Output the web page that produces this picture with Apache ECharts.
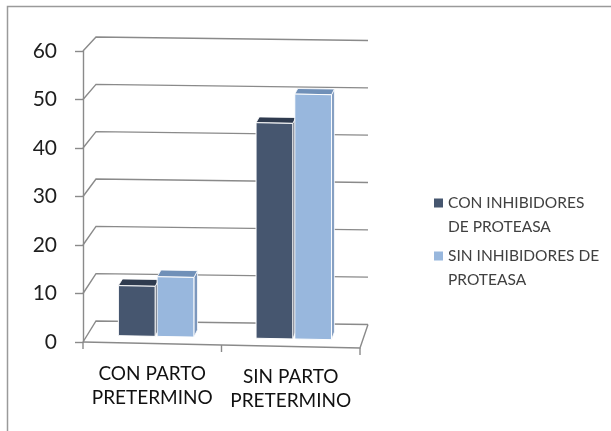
<!DOCTYPE html>
<html>
<head>
<meta charset="utf-8">
<script src="https://cdn.jsdelivr.net/npm/echarts@6/dist/echarts.min.js"></script>
<style>
  html, body { margin: 0; padding: 0; background: #ffffff; }
  #chart { width: 611px; height: 431px; }
</style>
</head>
<body>
<div id="chart"></div>
<script>
// ---- data ----
const categories = ['CON PARTO\nPRETERMINO', 'SIN PARTO\nPRETERMINO'];
const seriesNames = ['CON INHIBIDORES DE PROTEASA', 'SIN INHIBIDORES DE PROTEASA'];
const legendLabels = ['CON INHIBIDORES\nDE PROTEASA', 'SIN INHIBIDORES DE\nPROTEASA'];
const conInhibidores = [10.4, 44.8];
const sinInhibidores = [12.4, 50.9];
const yTicks = [0, 10, 20, 30, 40, 50, 60];

// ---- pseudo-3D box geometry ----
const BOX = { dx: 13, dy: -21, backShrinkX: 5, backShrinkY: 7, frontSlope: 6, backSlope: 3.5 };
const BAR = { widthRatio: 0.267, gap: 2, front: 0.33, back: 0.66 };
const GRID_COLOR = '#8a8a8a';

// maps a front-plane pixel (from the axes) to a point at depth d (0 = front, 1 = back wall)
function project(cs, px, py, d) {
  const t = (px - cs.x) / cs.width;
  const bottom = cs.y + cs.height;
  const f = (bottom - py) / cs.height;
  const fx = px;
  const fy = py + t * BOX.frontSlope;
  const bx = cs.x + BOX.dx + t * (cs.width - BOX.backShrinkX);
  const by = bottom + BOX.dy - f * (cs.height - BOX.backShrinkY) + t * BOX.backSlope;
  return [fx + (bx - fx) * d, fy + (by - fy) * d];
}

// back wall gridlines, floor outline and category ticks
function renderFrame(params, api) {
  const cs = params.coordSys;
  const v = api.value(1);
  const p = api.coord([0, v]);
  const y = p[1];
  const left = cs.x, right = cs.x + cs.width;
  const lineStyle = { stroke: GRID_COLOR, lineWidth: 1.4, fill: null };
  const children = [{
    type: 'polyline',
    shape: { points: [[left, y], project(cs, left, y, 1), project(cs, right, y, 1)] },
    style: lineStyle
  }];
  if (v === yTicks[0]) {
    children.push({
      type: 'polyline',
      shape: { points: [project(cs, right, y, 1), project(cs, right, y, 0), project(cs, left, y, 0)] },
      style: lineStyle
    });
    const n = categories.length;
    for (let i = 0; i <= n; i++) {
      const x = left + cs.width * i / n;
      const a = project(cs, x, y, 0);
      children.push({
        type: 'line',
        shape: { x1: a[0], y1: a[1], x2: a[0], y2: a[1] + 7 },
        style: { stroke: GRID_COLOR, lineWidth: 1.4 }
      });
    }
  }
  return { type: 'group', children: children };
}

function barRenderer(slot, colors) {
  return function (params, api) {
    const cs = params.coordSys;
    const ci = api.value(0);
    const v = api.value(1);
    const base = api.coord([ci, 0]);
    const top = api.coord([ci, v]);
    const band = api.size([1, 0])[0];
    const w = band * BAR.widthRatio;
    const x0 = slot === 0 ? base[0] - w - BAR.gap / 2 : base[0] + BAR.gap / 2;
    const x1 = x0 + w;
    const P = (x, yy, d) => project(cs, x, yy, d);
    const front = [P(x0, base[1], BAR.front), P(x1, base[1], BAR.front), P(x1, top[1], BAR.front), P(x0, top[1], BAR.front)];
    const topFace = [P(x0, top[1], BAR.front), P(x1, top[1], BAR.front), P(x1, top[1], BAR.back), P(x0, top[1], BAR.back)];
    const side = [P(x1, base[1], BAR.front), P(x1, top[1], BAR.front), P(x1, top[1], BAR.back), P(x1, base[1], BAR.back)];
    return {
      type: 'group',
      children: [
        { type: 'polygon', shape: { points: side }, style: { fill: colors.side, stroke: '#ffffff', lineWidth: 0.8 } },
        { type: 'polygon', shape: { points: topFace }, style: { fill: colors.top, stroke: '#ffffff', lineWidth: 0.8 } },
        { type: 'polygon', shape: { points: front }, style: { fill: colors.front, stroke: '#ffffff', lineWidth: 1 } }
      ]
    };
  };
}

const darkColors = { front: '#46566f', top: '#2f3b4f', side: '#343f53' };
const lightColors = { front: '#98b7dd', top: '#7090b8', side: '#7b97bd' };

// legend marker: a square sitting at the top of a taller box, so it lines up with the first text line
const LEGEND_ICON = 'path://M0,0h9v9h-9zM0,33h0.01v0.01h-0.01z';

// category labels follow the slight downward slope of the floor edge
const categoryItems = categories.map((c, i) => ({
  value: c,
  textStyle: { padding: [i * 3, 0, 0, 0] }
}));

const chart = echarts.init(document.getElementById('chart'), null, { renderer: 'canvas' });

chart.setOption({
  animation: false,
  backgroundColor: '#ffffff',
  textStyle: { fontFamily: 'Lato' },
  graphic: [{
    type: 'rect',
    shape: { x: 7.5, y: 6.5, width: 700, height: 500 },
    style: { fill: null, stroke: '#9a9a9a', lineWidth: 1.5 },
    z: -10
  }],
  grid: { left: 83, top: 51, width: 277, height: 291 },
  legend: {
    data: seriesNames,
    orient: 'vertical',
    left: 434,
    top: 191,
    padding: 0,
    itemGap: 5,
    itemWidth: 9,
    itemHeight: 33,
    icon: LEGEND_ICON,
    selectedMode: false,
    formatter: function (name) { return legendLabels[seriesNames.indexOf(name)]; },
    textStyle: { fontFamily: 'Lato', fontSize: 15.5, lineHeight: 24, color: '#404040' }
  },
  xAxis: {
    type: 'category',
    data: categoryItems,
    axisLine: { show: false },
    axisTick: { show: false },
    axisLabel: {
      interval: 0,
      hideOverlap: false,
      margin: 20,
      fontFamily: 'Lato',
      fontSize: 19,
      lineHeight: 24,
      color: '#111111'
    }
  },
  yAxis: {
    type: 'value',
    min: 0,
    max: 60,
    interval: 10,
    splitLine: { show: false },
    axisLine: { show: true, lineStyle: { color: GRID_COLOR, width: 1.4 } },
    axisTick: { show: true, length: 8, lineStyle: { color: GRID_COLOR, width: 1.4 } },
    axisLabel: { margin: 26, fontFamily: 'Lato', fontSize: 21, color: '#1e1e1e' }
  },
  series: [
    {
      name: 'frame',
      type: 'custom',
      renderItem: renderFrame,
      data: yTicks.map(v => [0, v]),
      encode: { x: 0, y: 1 },
      silent: true,
      z: 1
    },
    {
      name: seriesNames[0],
      type: 'custom',
      renderItem: barRenderer(0, darkColors),
      data: conInhibidores.map((v, i) => [i, v]),
      encode: { x: 0, y: 1 },
      itemStyle: { color: darkColors.front },
      z: 2
    },
    {
      name: seriesNames[1],
      type: 'custom',
      renderItem: barRenderer(1, lightColors),
      data: sinInhibidores.map((v, i) => [i, v]),
      encode: { x: 0, y: 1 },
      itemStyle: { color: lightColors.front },
      z: 2
    }
  ]
});
</script>
</body>
</html>
